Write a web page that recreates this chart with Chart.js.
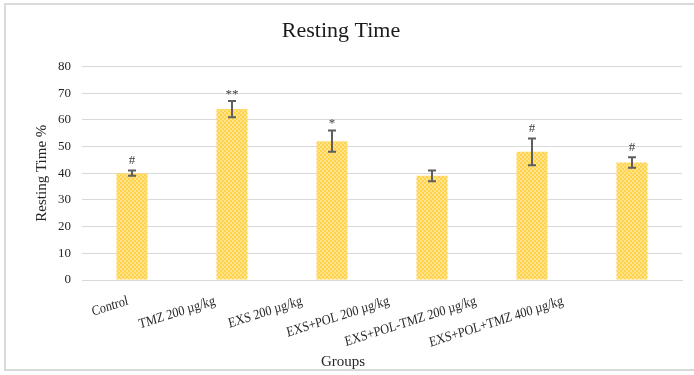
<!DOCTYPE html>
<html>
<head>
<meta charset="utf-8">
<script src="https://cdn.jsdelivr.net/npm/chart.js@4"></script>
<style>
    html, body { margin: 0; padding: 0; background: #fff; }
    #wrap { position: relative; width: 694px; height: 375px; }
    #frame { position: absolute; left: 4px; top: 3px; width: 692px; height: 368px; border: 2px solid #d9d9d9; box-sizing: border-box; pointer-events: none; }
</style>
</head>
<body>
<div id="wrap">
    <canvas id="restChart" width="694" height="375"></canvas>
    <div id="frame"></div>
</div>
<script>
const groups = ['Control', 'TMZ 200 µg/kg', 'EXS 200 µg/kg', 'EXS+POL 200 µg/kg', 'EXS+POL-TMZ 200 µg/kg', 'EXS+POL+TMZ 400 µg/kg'];
const restingTime = [40, 64, 52, 39, 48, 44];
const errors = [1, 3, 4, 2, 5, 2];
const marks = ['#', '**', '*', '', '#', '#'];
const yTicks = [0, 10, 20, 30, 40, 50, 60, 70, 80];

const SERIF = '"Liberation Serif", "Times New Roman", serif';

// dotted yellow fill like the office chart
function dotPattern() {
    const c = document.createElement('canvas');
    c.width = 4; c.height = 4;
    const g = c.getContext('2d');
    g.fillStyle = '#FFD34A';
    g.fillRect(0, 0, 4, 4);
    g.fillStyle = '#FFE38C';
    g.fillRect(0, 0, 2, 2);
    g.fillRect(2, 2, 2, 2);
    return g.createPattern(c, 'repeat');
}

const errorBars = {
    id: 'errorBars',
    afterDatasetsDraw(chart) {
        const { ctx } = chart;
        const y = chart.scales.y;
        const xs = chart.scales.x;
        const meta = chart.getDatasetMeta(0);
        ctx.save();
        meta.data.forEach((bar, i) => {
            const x = bar.x;
            const top = y.getPixelForValue(restingTime[i] + errors[i]);
            const bot = y.getPixelForValue(restingTime[i] - errors[i]);
            ctx.strokeStyle = '#5f5f5f';
            ctx.lineWidth = 2;
            ctx.beginPath();
            ctx.moveTo(x, top); ctx.lineTo(x, bot);
            ctx.moveTo(x - 4, top); ctx.lineTo(x + 4, top);
            ctx.moveTo(x - 4, bot); ctx.lineTo(x + 4, bot);
            ctx.stroke();
            if (marks[i]) {
                ctx.fillStyle = '#404040';
                ctx.font = '13px ' + SERIF;
                ctx.textAlign = 'center';
                ctx.textBaseline = 'bottom';
                ctx.fillText(marks[i], x, top - (marks[i].includes('*') ? 0 : 3));
            }
        });

        // category labels: the source picture squeezes them sideways
        const left = chart.chartArea.left;
        ctx.fillStyle = '#262626';
        ctx.font = '14px ' + SERIF;
        ctx.textAlign = 'right';
        ctx.textBaseline = 'top';
        groups.forEach((g, i) => {
            ctx.save();
            ctx.translate(left, 0);
            ctx.scale(0.87, 1);
            ctx.translate(xs.getPixelForTick(i) - left + 1, 294);
            ctx.rotate(-15.5 * Math.PI / 180);
            ctx.fillText(g, 0, 0);
            ctx.restore();
        });

        // x axis title
        ctx.font = '15px ' + SERIF;
        ctx.textAlign = 'center';
        ctx.textBaseline = 'middle';
        ctx.fillText('Groups', chart.width / 2 - 4, 362);
        ctx.restore();
    }
};

new Chart(document.getElementById('restChart').getContext('2d'), {
    type: 'bar',
    data: {
        labels: groups,
        datasets: [{
            label: 'Resting Time %',
            data: restingTime,
            backgroundColor: dotPattern(),
            borderWidth: 0,
            barPercentage: 0.31,
            categoryPercentage: 1
        }]
    },
    options: {
        responsive: false,
        animation: false,
        devicePixelRatio: 1,
        layout: { padding: { top: 0, right: 12, left: 0, bottom: 0 } },
        plugins: {
            legend: { display: false },
            tooltip: { enabled: false },
            title: {
                display: true,
                text: 'Resting Time',
                color: '#1a1a1a',
                font: { family: SERIF, size: 22, weight: 'normal' },
                padding: { top: 18, bottom: 22 }
            }
        },
        scales: {
            x: {
                grid: { display: false, drawTicks: false },
                border: { color: '#d9d9d9' },
                ticks: { display: false },
                afterFit(scale) { scale.height = 95; }
            },
            y: {
                min: 0,
                max: 80,
                afterBuildTicks(scale) { scale.ticks = yTicks.map((v) => ({ value: v })); },
                grid: { color: '#d9d9d9', drawTicks: false },
                border: { display: false },
                ticks: {
                    color: '#262626',
                    font: { family: SERIF, size: 13 },
                    padding: 11
                },
                title: {
                    display: true,
                    text: 'Resting Time %',
                    color: '#262626',
                    font: { family: SERIF, size: 15 },
                    padding: { top: 33, bottom: 0 }
                },
                afterFit(scale) { scale.width = 82; }
            }
        }
    },
    plugins: [errorBars]
});
</script>
</body>
</html>
